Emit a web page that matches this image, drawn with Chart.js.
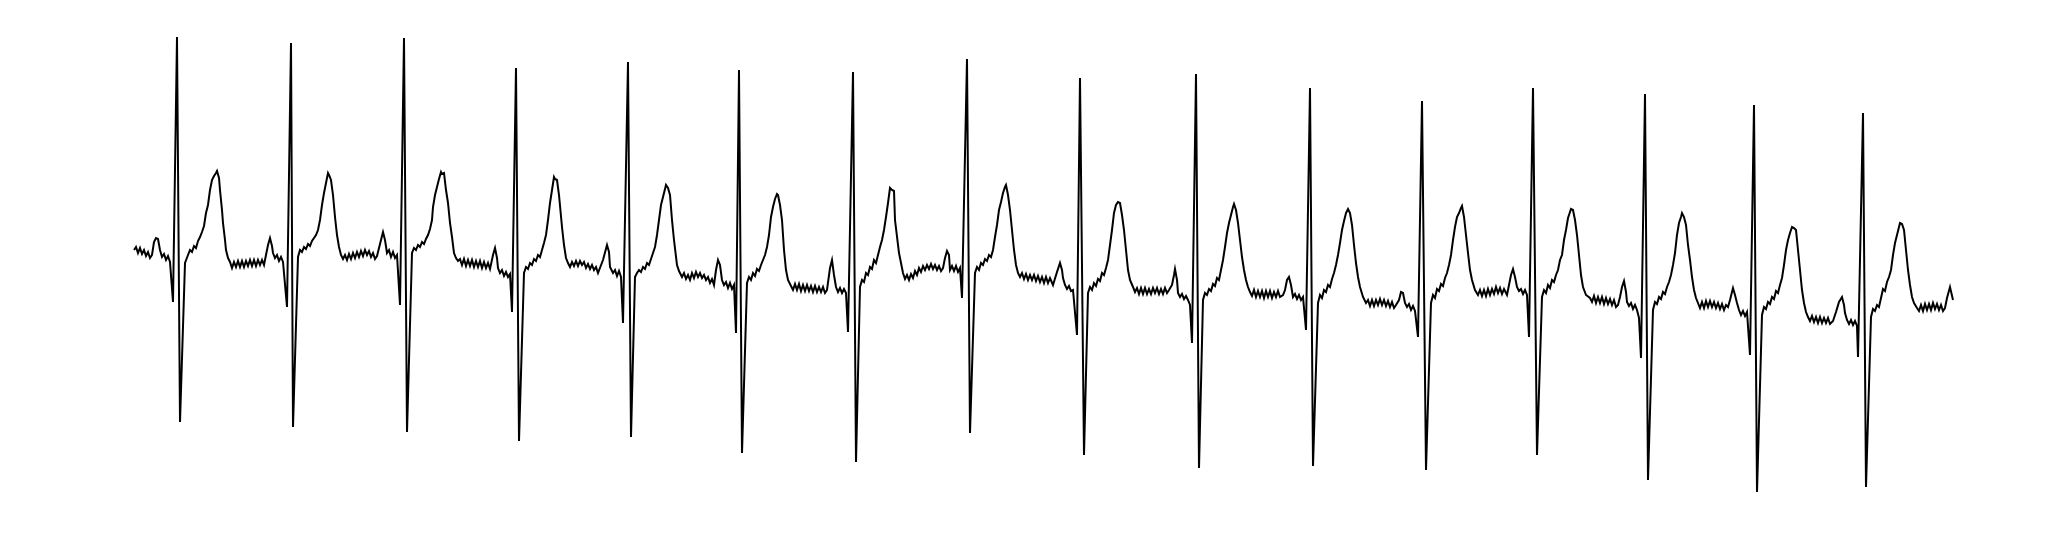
<!DOCTYPE html>
<html>
<head>
<meta charset="utf-8">
<title>ECG trace</title>
<script src="https://cdn.jsdelivr.net/npm/chart.js@4.4.1/dist/chart.umd.min.js"></script>
<style>
  html, body { margin: 0; padding: 0; background: #fff; }
  #ecg { display: block; }
</style>
</head>
<body>
<canvas id="ecg" width="2046" height="538"></canvas>
<script>
// [sample, mV], one array per heartbeat
const b01 = [[0,0.15],[2,0.18],[4,0.12],[6,0.17],[8,0.11],[10,0.15],[12,0.09],[14,0.13],[16,0.07],[18,0.10],
  [20,0.23],[22,0.27],[24,0.26],[26,0.15],[28,0.08],[30,0.11],[32,0.05],[34,0.09],[36,0.03],
  [39,-0.37],[43,2.28],[46,-1.57],[51,0.02],
  [54,0.10],[56,0.15],[58,0.13],[60,0.19],[62,0.17],[64,0.24],[66,0.28],[68,0.33],[70,0.39],[72,0.52],[74,0.60],[76,0.75],[78,0.85],[80,0.89],[82,0.92],[83,0.94],[85,0.87],[86,0.75],[88,0.55],[89,0.42],[91,0.25],[92,0.15],[94,0.07],[96,0.03],
  [98,-0.03],[100,0.03],[102,-0.02],[104,0.04],[106,-0.02],[108,0.04],[110,-0.02],[112,0.04],[114,-0.01],[116,0.05],[118,-0.01],[120,0.05],[122,-0.01],[124,0.05],[126,0.0],[128,0.05],[130,0.0]];
const b02 = [[134,0.20],[136,0.27],[138,0.19],[139,0.12],[141,0.07],[143,0.10],[145,0.04],[147,0.08],[149,0.03],
  [153,-0.42],[157,2.22],[159,-1.62],[164,0.08],
  [166,0.15],[168,0.13],[170,0.18],[172,0.16],[174,0.21],[176,0.19],[178,0.24],[180,0.27],[182,0.30],[184,0.35],[186,0.45],[188,0.60],[190,0.72],[192,0.82],[194,0.92],[195,0.90],[197,0.85],[199,0.70],[201,0.48],[203,0.30],[205,0.18],[207,0.10],[209,0.06],
  [211,0.10],[213,0.05],[215,0.11],[217,0.06],[219,0.12],[221,0.07],[223,0.13],[225,0.08],[227,0.14],[229,0.09],[231,0.15],[233,0.10],[235,0.14],[237,0.08],[239,0.12],[241,0.06],[243,0.09]];
const b03 = [[247,0.25],[249,0.33],[251,0.25],[253,0.12],[255,0.15],[257,0.08],[259,0.13],[261,0.07],[263,0.10],
  [266,-0.40],[270,2.27],[273,-1.67],[278,0.12],
  [280,0.17],[282,0.15],[284,0.20],[286,0.18],[288,0.23],[290,0.21],[292,0.26],[294,0.30],[296,0.36],[298,0.45],[299,0.58],[301,0.70],[303,0.78],[305,0.86],[307,0.93],[308,0.91],[310,0.92],[312,0.75],[314,0.62],[316,0.42],[318,0.28],[320,0.12],[322,0.07],[324,0.04],
  [326,0.06],[328,0.0],[330,0.06],[332,-0.01],[334,0.05],[336,-0.01],[338,0.05],[340,-0.02],[342,0.04],[344,-0.02],[346,0.04],[348,-0.03],[350,0.03],[352,-0.03],[354,0.02],[356,-0.04]];
const b04 = [[359,0.10],[361,0.17],[363,0.07],[364,-0.03],[366,-0.08],[368,-0.05],[370,-0.11],[372,-0.07],[374,-0.12],[376,-0.09],
  [378,-0.47],[382,1.97],[385,-1.76],[390,-0.08],
  [392,-0.02],[394,-0.04],[396,0.02],[398,0.0],[400,0.06],[402,0.04],[404,0.10],[406,0.08],[408,0.15],[410,0.22],[412,0.30],[414,0.45],[416,0.62],[418,0.75],[420,0.88],[421,0.86],[423,0.85],[425,0.70],[428,0.38],[430,0.20],[432,0.07],
  [434,0.02],[436,-0.02],[438,0.03],[440,-0.01],[442,0.04],[444,-0.01],[446,0.04],[448,0.0],[450,0.03],[452,-0.03],[454,0.01],[456,-0.04],[458,0.0],[460,-0.05],[462,-0.02],[464,-0.08]];
const b05 = [[469,0.05],[473,0.20],[475,0.13],[476,-0.02],[479,-0.08],[481,-0.05],[483,-0.11],[485,-0.06],[487,-0.12],
  [489,-0.58],[494,2.03],[497,-1.72],[501,-0.12],
  [503,-0.08],[505,-0.05],[507,-0.07],[509,-0.02],[511,-0.04],[513,0.02],[515,0.0],[517,0.06],[519,0.12],[521,0.18],[523,0.30],[525,0.45],[527,0.60],[529,0.68],[531,0.76],[532,0.80],[534,0.77],[536,0.70],[538,0.45],[540,0.25],[543,0.0],[545,-0.06],[548,-0.12],
  [550,-0.08],[552,-0.14],[554,-0.10],[556,-0.15],[558,-0.08],[560,-0.13],[562,-0.07],[564,-0.12],[566,-0.08],[568,-0.13],[570,-0.10],[572,-0.15],[574,-0.12],[576,-0.18],[578,-0.14],[580,-0.20]];
const b06 = [[582,-0.05],[584,0.05],[586,0.0],[588,-0.15],[590,-0.20],[592,-0.17],[594,-0.23],[596,-0.18],[598,-0.24],[600,-0.20],
  [602,-0.68],[605,1.95],[608,-1.88],[613,-0.18],
  [615,-0.12],[617,-0.15],[619,-0.08],[621,-0.11],[623,-0.04],[625,-0.06],[627,0.0],[629,0.05],[631,0.10],[633,0.18],[635,0.30],[637,0.48],[639,0.58],[641,0.66],[643,0.71],[644,0.70],[646,0.60],[648,0.45],[650,0.15],[652,-0.05],[654,-0.15],[657,-0.21],[659,-0.25],
  [661,-0.19],[663,-0.25],[665,-0.19],[667,-0.26],[669,-0.20],[671,-0.26],[673,-0.20],[675,-0.26],[677,-0.21],[679,-0.27],[681,-0.21],[683,-0.27],[685,-0.22],[687,-0.27],[689,-0.22],[691,-0.28],[693,-0.25]];
const b07 = [[696,-0.03],[698,0.05],[700,-0.10],[702,-0.22],[704,-0.27],[706,-0.23],[708,-0.28],[710,-0.24],[712,-0.28],
  [714,-0.67],[719,1.93],[722,-1.97],[726,-0.22],
  [728,-0.15],[730,-0.17],[732,-0.08],[734,-0.10],[736,-0.02],[738,-0.04],[740,0.05],[742,0.02],[744,0.10],[746,0.18],[748,0.25],[750,0.35],[752,0.48],[754,0.62],[756,0.77],[758,0.75],[760,0.74],[761,0.45],[765,0.12],[769,-0.08],[771,-0.14],[773,-0.10],
  [775,-0.15],[777,-0.09],[779,-0.13],[781,-0.06],[783,-0.10],[785,-0.03],[787,-0.07],[789,-0.01],[791,-0.05],[793,0.0],[795,-0.04],[797,0.01],[799,-0.04],[801,0.0],[803,-0.05],[805,-0.01],[807,-0.06],[809,-0.03]];
const b08 = [[811,0.07],[813,0.14],[815,0.10],[816,-0.05],[818,-0.01],[820,-0.06],[822,-0.01],[824,-0.07],[826,-0.03],
  [828,-0.33],[833,2.06],[836,-1.68],[841,-0.08],
  [843,-0.02],[845,-0.05],[847,0.02],[849,0.0],[851,0.06],[853,0.04],[855,0.10],[857,0.08],[859,0.15],[861,0.28],[863,0.40],[865,0.55],[867,0.63],[869,0.72],[871,0.78],[872,0.80],[874,0.70],[876,0.55],[878,0.35],[880,0.15],[882,0.0],[884,-0.08],[886,-0.12],
  [888,-0.08],[890,-0.14],[892,-0.09],[894,-0.15],[896,-0.10],[898,-0.15],[900,-0.10],[902,-0.16],[904,-0.11],[906,-0.17],[908,-0.12],[910,-0.18],[912,-0.12],[914,-0.18],[916,-0.13],[919,-0.20]];
const b09 = [[923,-0.07],[926,0.02],[928,-0.05],[929,-0.13],[931,-0.20],[933,-0.24],[935,-0.21],[937,-0.26],[939,-0.25],
  [943,-0.70],[946,1.87],[950,-1.90],[954,-0.28],
  [956,-0.22],[958,-0.25],[960,-0.18],[962,-0.21],[964,-0.14],[966,-0.16],[968,-0.08],[970,-0.10],[972,-0.03],[974,0.05],[976,0.20],[978,0.35],[980,0.52],[982,0.60],[984,0.63],[986,0.62],[988,0.50],[990,0.35],[992,0.15],[994,-0.05],[996,-0.15],[999,-0.22],
  [1001,-0.27],[1003,-0.23],[1005,-0.29],[1007,-0.23],[1009,-0.29],[1011,-0.23],[1013,-0.29],[1015,-0.24],[1017,-0.29],[1019,-0.23],[1021,-0.28],[1023,-0.23],[1025,-0.29],[1027,-0.24],[1029,-0.29],[1031,-0.23],[1033,-0.28],[1035,-0.25]];
const b10 = [[1038,-0.20],[1040,-0.10],[1041,-0.04],[1043,-0.15],[1044,-0.28],[1046,-0.32],[1048,-0.29],[1050,-0.34],[1052,-0.31],[1054,-0.35],[1056,-0.40],
  [1058,-0.78],[1062,1.91],[1065,-2.03],[1069,-0.35],
  [1071,-0.28],[1073,-0.30],[1075,-0.24],[1077,-0.26],[1079,-0.19],[1081,-0.21],[1083,-0.13],[1085,-0.15],[1087,-0.05],[1089,0.05],[1091,0.18],[1093,0.32],[1095,0.42],[1097,0.50],[1099,0.58],[1100,0.61],[1102,0.55],[1104,0.42],[1106,0.25],[1108,0.08],[1110,-0.05],[1112,-0.15],[1114,-0.22],[1116,-0.27],
  [1118,-0.31],[1120,-0.25],[1122,-0.32],[1124,-0.26],[1126,-0.32],[1128,-0.26],[1130,-0.33],[1132,-0.26],[1134,-0.32],[1136,-0.26],[1138,-0.33],[1140,-0.27],[1142,-0.32],[1144,-0.26],[1146,-0.32],[1149,-0.30]];
const b11 = [[1151,-0.25],[1153,-0.15],[1155,-0.12],[1157,-0.20],[1159,-0.32],[1161,-0.29],[1163,-0.34],[1165,-0.30],[1167,-0.35],[1169,-0.32],
  [1172,-0.65],[1176,1.77],[1179,-2.01],[1184,-0.38],
  [1186,-0.30],[1188,-0.33],[1190,-0.25],[1192,-0.27],[1194,-0.20],[1196,-0.22],[1198,-0.14],[1200,-0.08],[1202,0.0],[1204,0.10],[1206,0.22],[1208,0.35],[1210,0.44],[1212,0.52],[1214,0.56],[1216,0.52],[1218,0.40],[1220,0.20],[1222,0.02],[1224,-0.12],[1226,-0.22],[1229,-0.32],[1232,-0.38],
  [1234,-0.35],[1236,-0.41],[1238,-0.35],[1240,-0.41],[1242,-0.35],[1244,-0.40],[1246,-0.34],[1248,-0.40],[1250,-0.35],[1252,-0.41],[1254,-0.36],[1256,-0.42],[1258,-0.37],[1260,-0.43],[1262,-0.40]];
const b12 = [[1265,-0.35],[1267,-0.27],[1269,-0.28],[1271,-0.38],[1273,-0.42],[1275,-0.39],[1277,-0.45],[1279,-0.41],[1281,-0.46],
  [1284,-0.72],[1288,1.64],[1292,-2.05],[1297,-0.38],
  [1299,-0.30],[1301,-0.33],[1303,-0.24],[1305,-0.26],[1307,-0.19],[1309,-0.21],[1311,-0.13],[1313,-0.08],[1315,0.0],[1317,0.10],[1319,0.25],[1321,0.38],[1323,0.48],[1325,0.52],[1327,0.57],[1328,0.59],[1330,0.48],[1332,0.30],[1334,0.12],[1336,-0.05],[1338,-0.15],[1341,-0.25],[1344,-0.30],
  [1346,-0.25],[1348,-0.31],[1350,-0.25],[1352,-0.31],[1354,-0.24],[1356,-0.30],[1358,-0.24],[1360,-0.29],[1362,-0.22],[1364,-0.28],[1366,-0.23],[1368,-0.29],[1370,-0.24],[1373,-0.30]];
const b13 = [[1375,-0.20],[1377,-0.10],[1379,-0.04],[1381,-0.12],[1383,-0.22],[1385,-0.26],[1387,-0.24],[1389,-0.29],[1391,-0.25],[1393,-0.30],
  [1395,-0.72],[1399,1.77],[1403,-1.90],[1408,-0.32],
  [1410,-0.25],[1412,-0.28],[1414,-0.20],[1416,-0.23],[1418,-0.15],[1420,-0.17],[1422,-0.10],[1424,-0.05],[1426,0.05],[1428,0.10],[1430,0.25],[1432,0.35],[1434,0.47],[1436,0.53],[1437,0.56],[1439,0.55],[1441,0.45],[1443,0.30],[1445,0.10],[1447,-0.10],[1449,-0.22],[1452,-0.30],[1456,-0.33],
  [1458,-0.37],[1460,-0.31],[1462,-0.38],[1464,-0.32],[1466,-0.38],[1468,-0.32],[1470,-0.39],[1472,-0.33],[1474,-0.39],[1476,-0.34],[1478,-0.40],[1480,-0.35],[1482,-0.42],[1484,-0.40]];
const b14 = [[1486,-0.32],[1488,-0.22],[1490,-0.16],[1492,-0.27],[1493,-0.37],[1495,-0.41],[1497,-0.38],[1499,-0.44],[1501,-0.40],[1503,-0.45],[1505,-0.53],
  [1507,-0.93],[1511,1.71],[1514,-2.15],[1519,-0.45],
  [1521,-0.37],[1523,-0.39],[1525,-0.32],[1527,-0.34],[1529,-0.27],[1531,-0.29],[1533,-0.22],[1535,-0.17],[1537,-0.10],[1539,0.0],[1541,0.12],[1543,0.30],[1545,0.42],[1547,0.48],[1548,0.52],[1550,0.48],[1552,0.40],[1554,0.20],[1556,0.05],[1558,-0.12],[1560,-0.25],[1562,-0.33],[1564,-0.38],
  [1566,-0.43],[1568,-0.37],[1570,-0.43],[1572,-0.36],[1574,-0.42],[1576,-0.36],[1578,-0.42],[1580,-0.37],[1582,-0.43],[1584,-0.38],[1586,-0.44],[1588,-0.39],[1590,-0.45],[1592,-0.40],[1594,-0.42]];
const b15 = [[1596,-0.35],[1598,-0.27],[1599,-0.23],[1601,-0.30],[1603,-0.38],[1605,-0.45],[1607,-0.50],[1609,-0.46],[1611,-0.51],[1613,-0.47],
  [1616,-0.90],[1620,1.60],[1623,-2.27],[1628,-0.50],
  [1630,-0.42],[1632,-0.44],[1634,-0.37],[1636,-0.39],[1638,-0.32],[1640,-0.34],[1642,-0.26],[1644,-0.28],[1646,-0.20],[1648,-0.13],[1650,0.0],[1652,0.15],[1654,0.25],[1656,0.32],[1658,0.38],[1660,0.37],[1662,0.35],[1664,0.15],[1666,-0.05],[1668,-0.25],[1670,-0.38],[1672,-0.47],[1674,-0.52],
  [1676,-0.56],[1678,-0.51],[1680,-0.57],[1682,-0.52],[1684,-0.58],[1686,-0.52],[1688,-0.58],[1690,-0.53],[1692,-0.58],[1694,-0.53],[1696,-0.59],[1699,-0.56]];
const b16 = [[1702,-0.47],[1705,-0.37],[1708,-0.32],[1710,-0.40],[1711,-0.48],[1713,-0.55],[1715,-0.59],[1717,-0.55],[1719,-0.60],[1721,-0.56],[1723,-0.61],
  [1724,-0.92],[1729,1.52],[1732,-2.22],[1737,-0.52],
  [1739,-0.44],[1741,-0.46],[1743,-0.40],[1745,-0.42],[1747,-0.33],[1749,-0.24],[1751,-0.26],[1753,-0.17],[1755,-0.12],[1757,-0.05],[1759,0.10],[1761,0.22],[1763,0.30],[1765,0.38],[1766,0.42],[1768,0.41],[1770,0.35],[1772,0.15],[1774,-0.05],[1776,-0.20],[1778,-0.32],[1780,-0.38],[1783,-0.43],
  [1785,-0.46],[1787,-0.40],[1789,-0.46],[1791,-0.39],[1793,-0.45],[1795,-0.39],[1797,-0.45],[1799,-0.38],[1801,-0.44],[1803,-0.39],[1805,-0.45],[1807,-0.40],[1809,-0.46],[1811,-0.43],
  [1813,-0.33],[1816,-0.22],[1819,-0.35]];

const xRange = [-134, 1912];
const yRange = [-2.73, 2.65];

const beats = [b01, b02, b03, b04, b05, b06, b07, b08, b09, b10, b11, b12, b13, b14, b15, b16];
const points = [];
for (let beat of beats) {
    for (let p of beat) {
        points.push({ x: p[0], y: p[1] });
    }
}

var ctx = document.getElementById('ecg').getContext('2d');
var ecgChart = new Chart(ctx, {
    type: 'line',
    data: {
        datasets: [{
            data: points,
            borderColor: '#000000',
            borderWidth: 2,
            pointRadius: 0,
            tension: 0,
            fill: false
        }]
    },
    options: {
        responsive: false,
        animation: false,
        layout: { padding: 0 },
        plugins: {
            legend: { display: false },
            tooltip: { enabled: false }
        },
        scales: {
            x: { type: 'linear', min: xRange[0], max: xRange[1], display: false },
            y: { min: yRange[0], max: yRange[1], display: false }
        }
    }
});
</script>
</body>
</html>
